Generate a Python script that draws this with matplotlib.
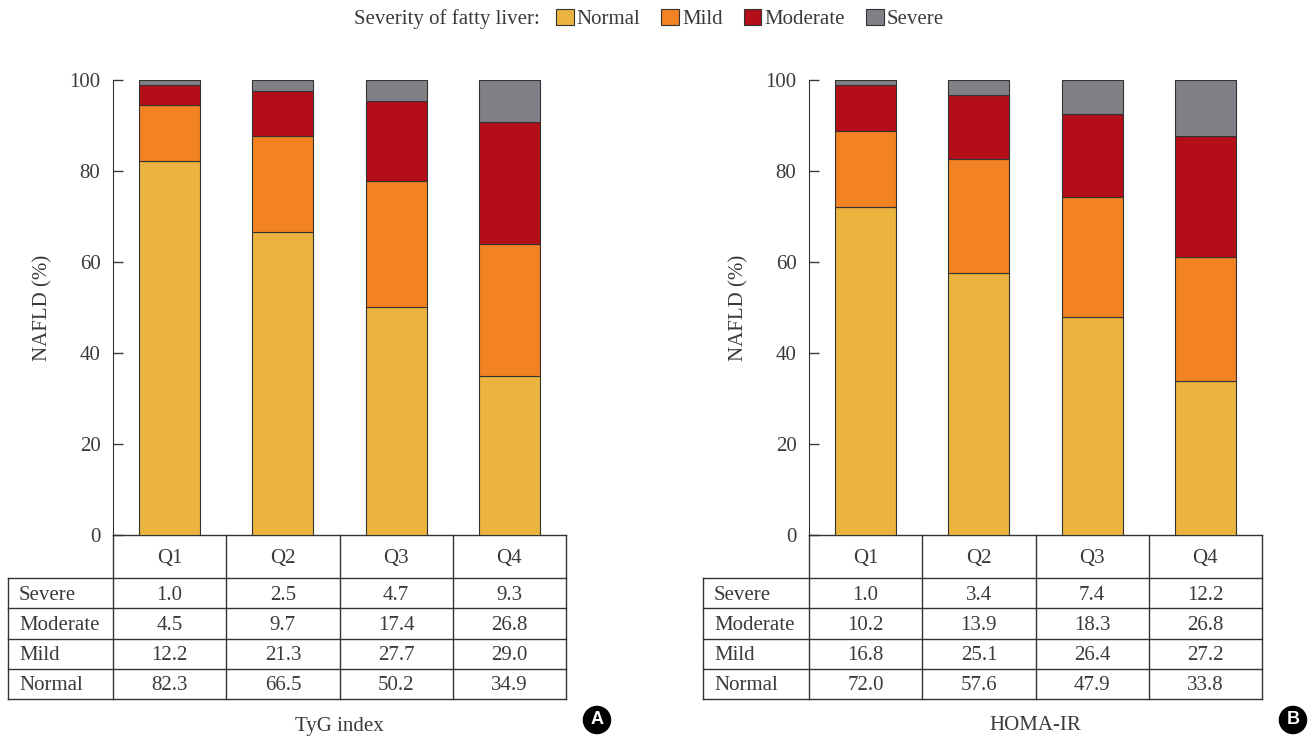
import matplotlib.pyplot as plt
import numpy as np

plt.rcParams['font.family'] = ['Liberation Serif', 'DejaVu Serif']
plt.rcParams['text.color'] = '#3a3a3a'
plt.rcParams['axes.labelcolor'] = '#3a3a3a'
plt.rcParams['xtick.color'] = '#3a3a3a'
plt.rcParams['ytick.color'] = '#3a3a3a'

# datos
cuartiles = ['Q1', 'Q2', 'Q3', 'Q4']
categorias = ['Normal', 'Mild', 'Moderate', 'Severe']
colores = ['#EAB43F', '#F28222', '#B40F18', '#808086']

tyg_normal = [82.3, 66.5, 50.2, 34.9]
tyg_mild = [12.2, 21.3, 27.7, 29.0]
tyg_moderate = [4.5, 9.7, 17.4, 26.8]
tyg_severe = [1.0, 2.5, 4.7, 9.3]

homa_normal = [72.0, 57.6, 47.9, 33.8]
homa_mild = [16.8, 25.1, 26.4, 27.2]
homa_moderate = [10.2, 13.9, 18.3, 26.8]
homa_severe = [1.0, 3.4, 7.4, 12.2]

W, H = 1312, 739
fig = plt.figure(figsize=(W / 100, H / 100), dpi=100)

linea = '#333333'
FS = 15


def panel(left_px, series, titulo, letra, label_left_px):
    ax_w, ax_h = 453, 455
    ax = fig.add_axes([left_px / W, 1 - 535 / H, ax_w / W, ax_h / H])
    x = np.arange(4)
    fondo = np.zeros(4)
    for valores, color in zip(series, colores):
        ax.bar(x, valores, width=0.54, bottom=fondo, color=color,
               edgecolor=linea, linewidth=0.8, zorder=3)
        fondo = fondo + np.array(valores)
    ax.set_xlim(-0.5, 3.5)
    ax.set_ylim(0, 100)
    ax.set_yticks([0, 20, 40, 60, 80, 100])
    ax.tick_params(axis='y', direction='in', length=7, pad=9, labelsize=FS, width=1)
    ax.set_xticks([])
    for s in ['top', 'right', 'bottom']:
        ax.spines[s].set_visible(False)
    ax.spines['left'].set_color(linea)
    ax.set_ylabel('NAFLD (%)', fontsize=FS)
    ax.yaxis.set_label_coords(-61 / ax_w, 0.5)

    # tabla dibujada a mano (pixeles -> fraccion de ejes)
    fx = lambda p: p / ax_w
    fy = lambda p: -p / ax_h
    lab_x0 = fx(-label_left_px)
    kw = dict(transform=ax.transAxes, clip_on=False, color=linea, lw=1)
    ax.plot([0, 1], [0, 0], **kw)
    for k in range(5):
        ax.plot([k / 4, k / 4], [0, fy(164)], **kw)
    ax.plot([lab_x0, lab_x0], [fy(43), fy(164)], **kw)
    for r in range(5):
        yy = fy(43 + r * 30.25)
        ax.plot([lab_x0, 1], [yy, yy], **kw)
    for k, q in enumerate(cuartiles):
        ax.text((k + 0.5) / 4, fy(23), q, transform=ax.transAxes,
                ha='center', va='center', fontsize=FS)
    filas = list(zip(categorias, series))[::-1]
    for r, (nombre, valores) in enumerate(filas):
        yy = fy(45 + (r + 0.5) * 30.25)
        ax.text(lab_x0 + fx(11), yy, nombre, transform=ax.transAxes,
                ha='left', va='center', fontsize=FS)
        for k, v in enumerate(valores):
            ax.text((k + 0.5) / 4, yy, '%.1f' % v, transform=ax.transAxes,
                    ha='center', va='center', fontsize=FS)
    ax.text(0.5, fy(191), titulo, transform=ax.transAxes,
            ha='center', va='center', fontsize=FS)
    ax.text(1 + fx(31), fy(185), letra, transform=ax.transAxes,
            ha='center', va='center', fontsize=13, color='white',
            fontweight='bold', family='Liberation Sans',
            bbox=dict(boxstyle='circle,pad=0.28', fc='black', ec='black'))
    return ax


panel(113, [tyg_normal, tyg_mild, tyg_moderate, tyg_severe], 'TyG index', 'A', 105)
panel(809, [homa_normal, homa_mild, homa_moderate, homa_severe], 'HOMA-IR', 'B', 106)

# leyenda
fig.text(540 / W, 1 - 19 / H, 'Severity of fatty liver:', ha='right', va='center', fontsize=FS)
handles = [plt.Rectangle((0, 0), 1, 1, fc=c, ec=linea, lw=0.8) for c in colores]
fig.legend(handles, categorias, loc='center left', bbox_to_anchor=(556 / W, 1 - 19 / H),
           ncol=4, frameon=False, fontsize=FS, handlelength=0.85, handleheight=0.85,
           handletextpad=0.15, columnspacing=1.0, borderaxespad=0, borderpad=0)

fig.savefig('out.png', dpi=100)
